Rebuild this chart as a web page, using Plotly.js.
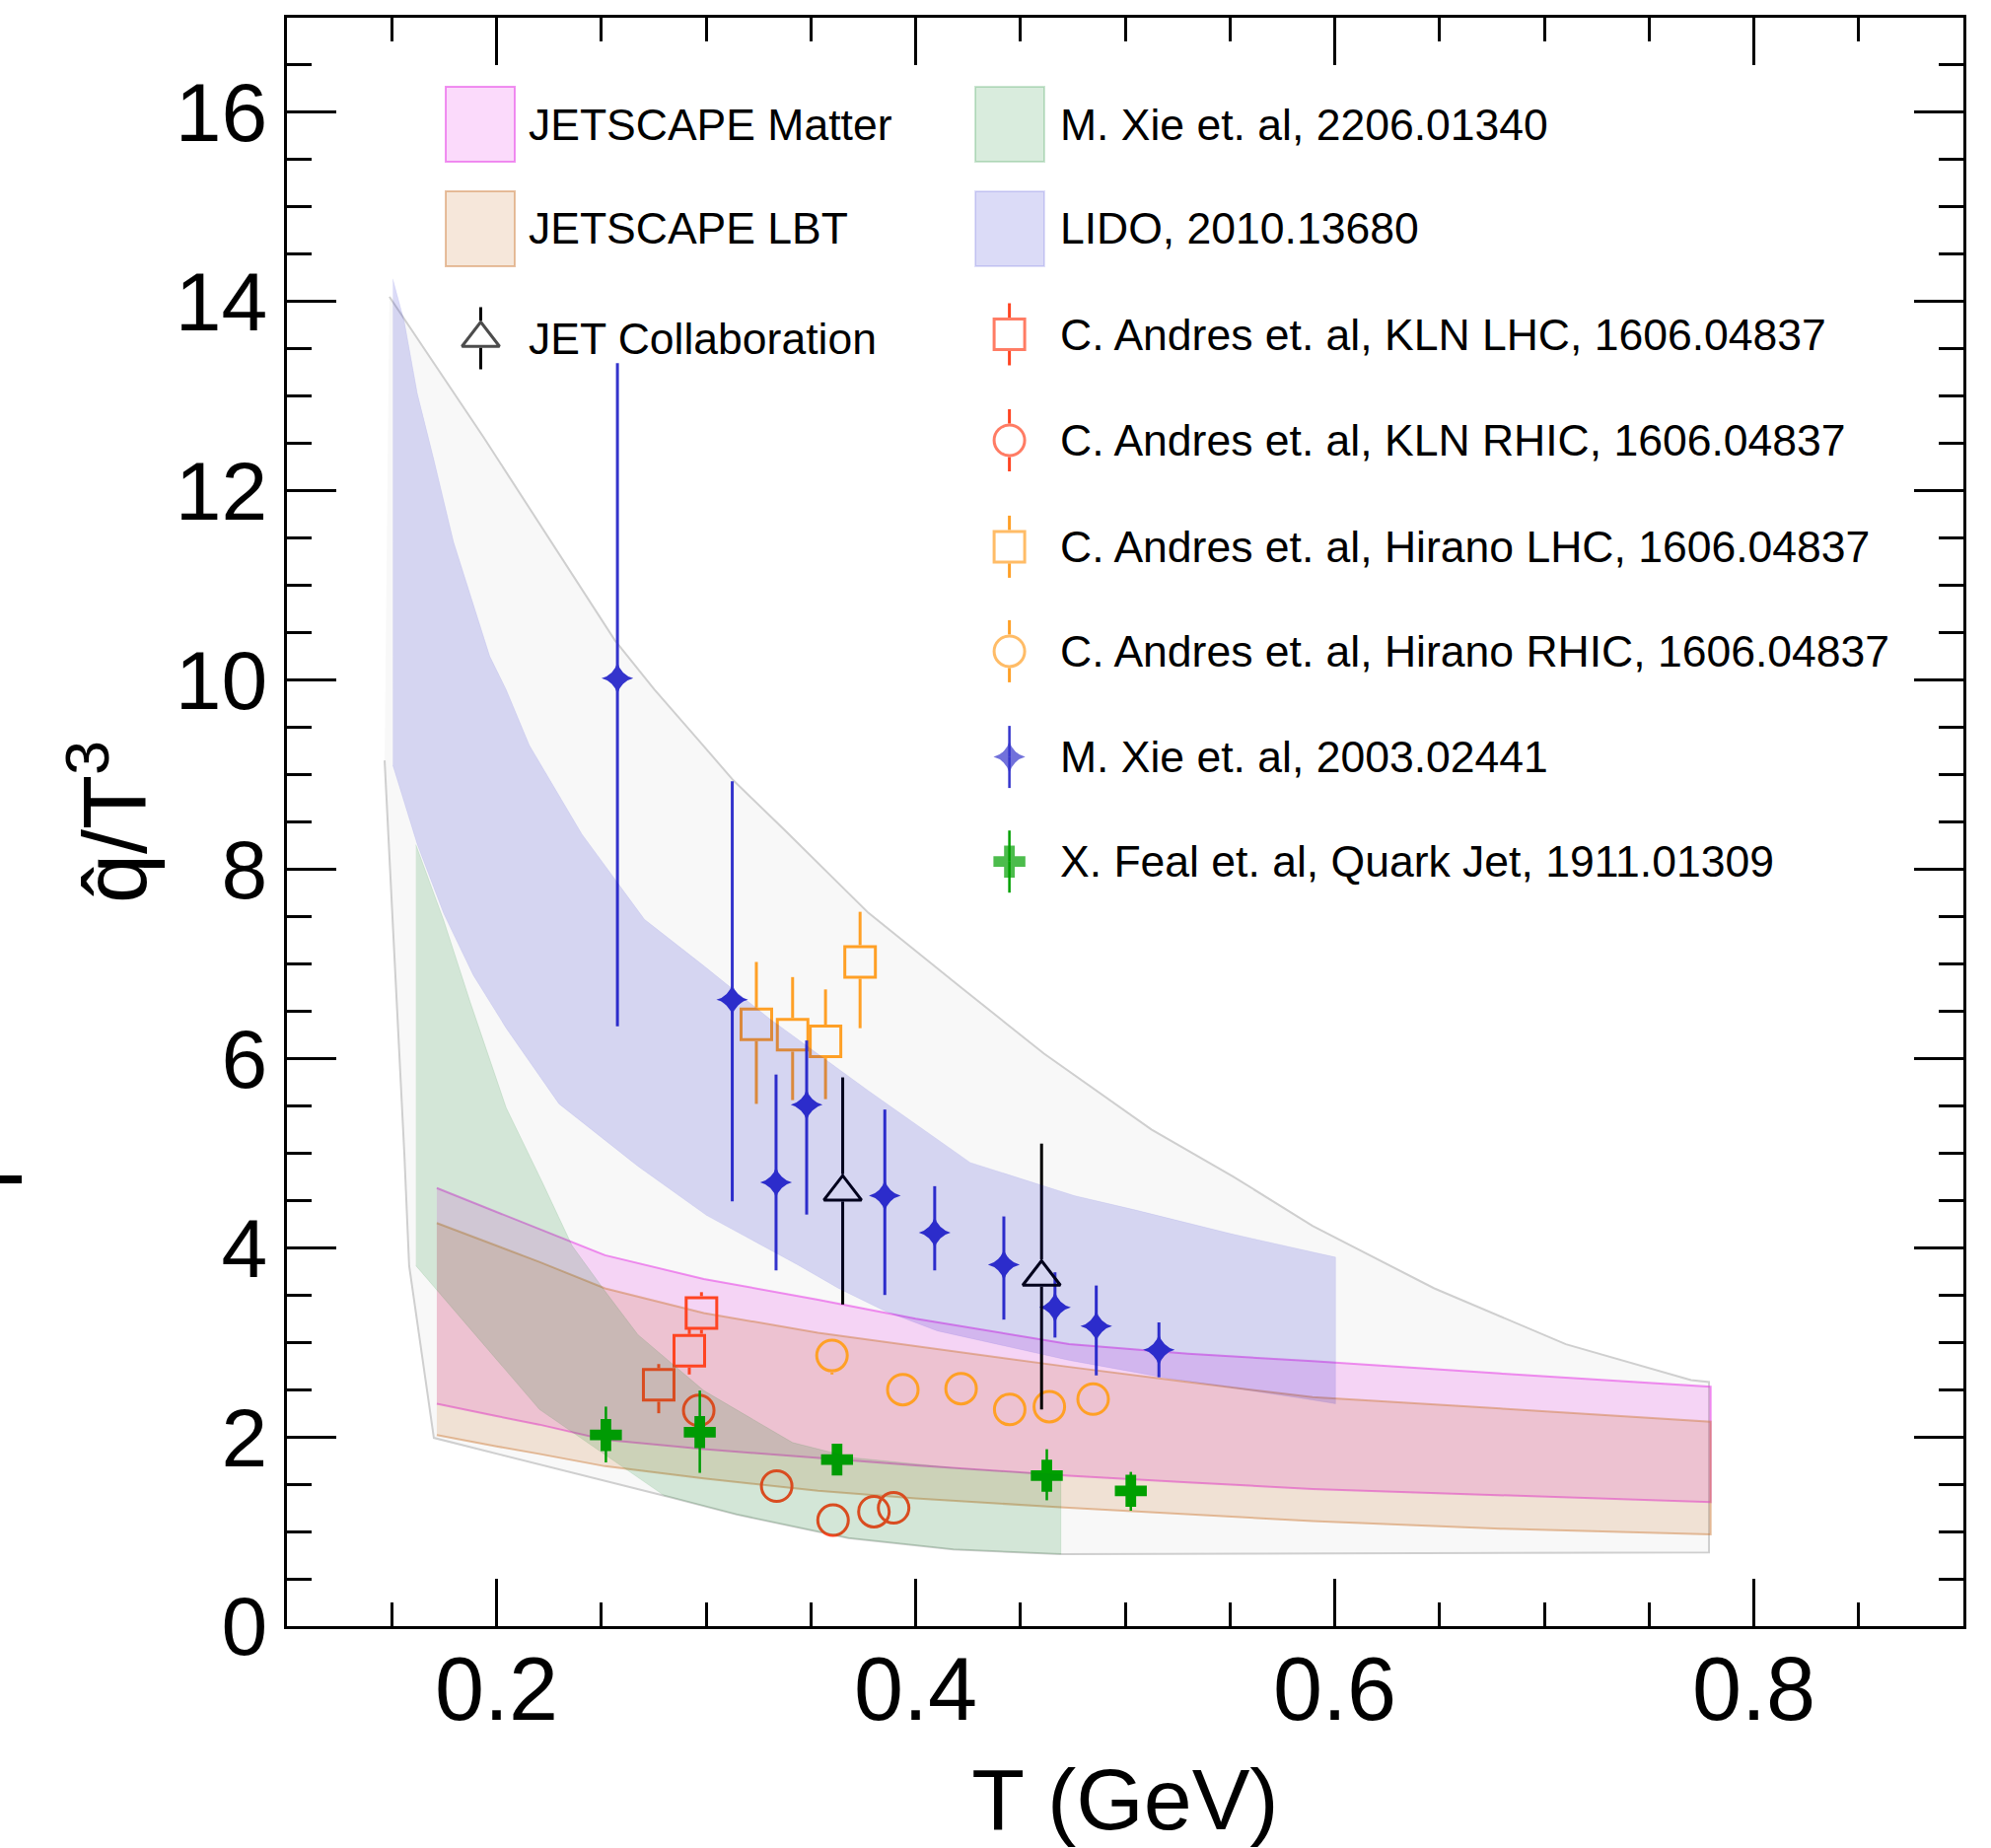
<!DOCTYPE html>
<html><head><meta charset="utf-8">
<script src="https://cdn.plot.ly/plotly-3.0.1.min.js"></script>
<style>html,body{margin:0;padding:0;background:#fff;}#chart{width:2019px;height:1874px;}</style>
</head><body><div id="chart"></div>
<script>
// ================= DATA =================
// Grey envelope
const greyUpperT = [0.1489, 0.1937, 0.2565, 0.2753, 0.2958, 0.3130, 0.3381, 0.3774, 0.4200, 0.4613, 0.5125, 0.5517, 0.5894, 0.6475, 0.7103, 0.7700, 0.7786];
const greyUpperQ = [14.05, 12.57, 10.42, 9.90, 9.38, 8.94, 8.40, 7.54, 6.78, 6.05, 5.25, 4.75, 4.23, 3.57, 2.98, 2.60, 2.58];
const greyLowerT = [0.1466, 0.1560, 0.1583, 0.1701, 0.2833, 0.3146, 0.3680, 0.4180, 0.4693, 0.7786];
const greyLowerQ = [9.15, 5.00, 3.81, 1.99, 1.36, 1.18, 0.93, 0.81, 0.76, 0.78];

// JETSCAPE Matter / JETSCAPE LBT bands
const jsT        = [0.1715, 0.2000, 0.2204, 0.2518, 0.2989, 0.3534, 0.4000, 0.4732, 0.5300, 0.5894, 0.6790, 0.7794];
const matterHigh = [4.63, 4.38, 4.20, 3.92, 3.67, 3.45, 3.25, 2.98, 2.88, 2.80, 2.67, 2.53];
const matterLow  = [2.35, 2.22, 2.13, 1.97, 1.87, 1.78, 1.70, 1.59, 1.52, 1.45, 1.38, 1.31];
const lbtHigh    = [4.26, 4.02, 3.85, 3.57, 3.31, 3.10, 2.96, 2.74, 2.58, 2.42, 2.30, 2.16];
const lbtLow     = [2.02, 1.90, 1.82, 1.69, 1.56, 1.43, 1.35, 1.25, 1.18, 1.11, 1.03, 0.97];

// M. Xie et al 2206.01340 band
const xie22UpperT = [0.1615, 0.1748, 0.1874, 0.2046, 0.2219, 0.2361, 0.2518, 0.2675, 0.2989, 0.3413, 0.3700, 0.4200, 0.4693];
const xie22UpperQ = [8.26, 7.46, 6.60, 5.48, 4.69, 4.02, 3.54, 3.08, 2.49, 1.94, 1.78, 1.67, 1.60];
const xie22LowerT = [0.1615, 0.1717, 0.2205, 0.2800, 0.3146, 0.3680, 0.4180, 0.4693];
const xie22LowerQ = [3.81, 3.54, 2.29, 1.38, 1.18, 0.93, 0.81, 0.76];

// LIDO 2010.13680 band
const lidoUpperT = [0.1505, 0.1560, 0.1622, 0.1701, 0.1795, 0.1968, 0.2046, 0.2157, 0.2408, 0.2706, 0.2989, 0.3303, 0.3774, 0.4261, 0.4758, 0.5046, 0.5500, 0.5894, 0.6004];
const lidoUpperQ = [14.24, 13.79, 13.03, 12.33, 11.46, 10.25, 9.90, 9.31, 8.37, 7.47, 6.98, 6.42, 5.66, 4.90, 4.55, 4.40, 4.15, 3.95, 3.90];
const lidoLowerT = [0.1505, 0.1622, 0.1748, 0.1889, 0.2046, 0.2298, 0.2675, 0.3003, 0.3436, 0.3632, 0.3853, 0.4104, 0.4732, 0.5203, 0.5894, 0.6004];
const lidoLowerQ = [9.10, 8.26, 7.53, 6.88, 6.32, 5.52, 4.86, 4.34, 3.82, 3.57, 3.33, 3.12, 2.81, 2.62, 2.39, 2.35];

// C. Andres et al, KLN LHC
const klnLhcT = [0.2774, 0.2920, 0.2978];
const klnLhcQ = [2.55, 2.91, 3.31];
const klnLhcPlus  = [0.22, 0.23, 0.22];
const klnLhcMinus = [0.30, 0.25, 0.22];
// C. Andres et al, KLN RHIC
const klnRhicT = [0.2965, 0.3337, 0.3606, 0.3801, 0.3895];
const klnRhicQ = [2.28, 1.48, 1.12, 1.21, 1.25];
// C. Andres et al, Hirano LHC
const hirLhcT = [0.3240, 0.3413, 0.3570, 0.3735];
const hirLhcQ = [6.36, 6.25, 6.18, 7.02];
const hirLhcPlus  = [0.66, 0.61, 0.55, 0.53];
const hirLhcMinus = [0.84, 0.69, 0.61, 0.70];
// C. Andres et al, Hirano RHIC
const hirRhicT = [0.3601, 0.3939, 0.4217, 0.4449, 0.4638, 0.4847];
const hirRhicQ = [2.86, 2.50, 2.51, 2.29, 2.32, 2.40];
const hirRhicPlus  = [0, 0, 0, 0, 0, 0];
const hirRhicMinus = [0.20, 0, 0, 0, 0, 0];
// M. Xie et al, 2003.02441
const xie20T = [0.2577, 0.3125, 0.3334, 0.3480, 0.3853, 0.4091, 0.4421, 0.4665, 0.4862, 0.5161];
const xie20Q = [10.02, 6.62, 4.69, 5.51, 4.55, 4.16, 3.82, 3.37, 3.17, 2.92];
const xie20Plus  = [3.33, 2.31, 1.14, 0.68, 0.91, 0.49, 0.51, 0.37, 0.43, 0.29];
const xie20Minus = [3.68, 2.13, 0.93, 1.16, 1.05, 0.40, 0.58, 0.32, 0.52, 0.29];
// JET Collaboration
const jetT = [0.3652, 0.4601];
const jetQ = [4.59, 3.69];
const jetPlus  = [1.21, 1.41];
const jetMinus = [1.19, 1.40];
// X. Feal et al, Quark Jet
const fealT = [0.2522, 0.2970, 0.3625, 0.4626, 0.5027];
const fealQ = [2.02, 2.05, 1.76, 1.59, 1.43];
const fealPlus  = [0.30, 0.44, 0.12, 0.28, 0.20];
const fealMinus = [0.29, 0.43, 0.12, 0.26, 0.21];

// Tick labels / axis titles / legend labels
const xTickVals = [0.2, 0.4, 0.6, 0.8];
const xTickText = ['0.2', '0.4', '0.6', '0.8'];
const yTickVals = [0, 2, 4, 6, 8, 10, 12, 14, 16];
const yTickText = ['0', '2', '4', '6', '8', '10', '12', '14', '16'];
const xTitle = 'T (GeV)';
const yTitle = 'q\u0302/T<sup>3</sup>';
const labels = {
  matter: 'JETSCAPE Matter', lbt: 'JETSCAPE LBT', jet: 'JET Collaboration',
  xie22: 'M. Xie et. al, 2206.01340', lido: 'LIDO, 2010.13680',
  klnLhc: 'C. Andres et. al, KLN LHC, 1606.04837', klnRhic: 'C. Andres et. al, KLN RHIC, 1606.04837',
  hirLhc: 'C. Andres et. al, Hirano LHC, 1606.04837', hirRhic: 'C. Andres et. al, Hirano RHIC, 1606.04837',
  xie20: 'M. Xie et. al, 2003.02441', feal: 'X. Feal et. al, Quark Jet, 1911.01309'
};

// ================= STYLE / LAYOUT =================
const W = 2019, H = 1874, ML = 291, MR = 28, MT = 18, MB = 225;
const plotW = W - ML - MR, plotH = H - MT - MB;
const xRange = [0.1, 0.9], yRange = [0, 17];
const pxPerUnit = plotH / (yRange[1] - yRange[0]);
const paperX = X => (X - ML) / plotW;
const paperY = Y => (H - MB - Y) / plotH;
const posX = X => xRange[0] + paperX(X) * (xRange[1] - xRange[0]);
const posY = Y => yRange[0] + paperY(Y) * (yRange[1] - yRange[0]);
const FONT = 'Liberation Sans, Arial, Helvetica, sans-serif';

const col = {
  kln: '#ff4422', hir: '#ffa026', xie: '#3434cc', jet: '#000000', feal: '#00a000',
  greyFill: '#f8f8f8', greyLine: '#cfcfcf',
  matterFill: 'rgba(230,0,230,0.145)', matterLine: 'rgba(230,60,230,0.55)',
  lbtFill: 'rgba(195,95,9,0.15)', lbtLine: 'rgba(205,120,50,0.45)',
  greenFill: 'rgba(0,130,30,0.15)', greenLine: 'rgba(0,130,30,0.10)',
  blueFill: 'rgba(0,0,200,0.14)', blueLine: 'rgba(0,0,200,0.06)'
};
const SZ = {sq: 31, circ: 31, tri: 33, star: 23, cross: 27, lw: 3};

function band(name, xu, yu, xl, yl, fill, line, lw) {
  return {type: 'scatter', mode: 'lines', name: name,
    x: xu.concat(xl.slice().reverse()), y: yu.concat(yl.slice().reverse()),
    fill: 'toself', fillcolor: fill, line: {color: line, width: lw},
    hoverinfo: 'skip', showlegend: false};
}
function gappedBars(name, T, Q, plus, minus, gapUpPx, gapDownPx, color) {
  const xs = [], ys = [];
  const gu = gapUpPx / pxPerUnit, gd = gapDownPx / pxPerUnit;
  for (let i = 0; i < T.length; i++) {
    if (plus[i] > gu) { xs.push(T[i], T[i], null); ys.push(Q[i] + gu, Q[i] + plus[i], null); }
    if (minus[i] > gd) { xs.push(T[i], T[i], null); ys.push(Q[i] - gd, Q[i] - minus[i], null); }
  }
  return {type: 'scatter', mode: 'lines', name: name + ' errors', x: xs, y: ys,
    line: {color: color, width: SZ.lw}, connectgaps: false, hoverinfo: 'skip', showlegend: false, cliponaxis: false};
}
function pts(name, T, Q, symbol, size, color, lw, err) {
  const t = {type: 'scatter', mode: 'markers', name: name, x: T, y: Q,
    marker: {symbol: symbol, size: size, color: color, line: {color: color, width: lw}},
    showlegend: false, cliponaxis: false};
  if (err) t.error_y = {type: 'data', symmetric: false, array: err[0], arrayminus: err[1],
    color: color, thickness: err[2], width: 0};
  return t;
}

const halfSq = SZ.sq / 2 + SZ.lw / 2, halfCirc = SZ.circ / 2 + SZ.lw / 2;
const traces = [
  band('Envelope', greyUpperT, greyUpperQ, greyLowerT, greyLowerQ, col.greyFill, col.greyLine, 2),
  band(labels.matter, jsT, matterHigh, jsT, matterLow, col.matterFill, col.matterLine, 2),
  band(labels.lbt, jsT, lbtHigh, jsT, lbtLow, col.lbtFill, col.lbtLine, 2),
  gappedBars(labels.klnLhc, klnLhcT, klnLhcQ, klnLhcPlus, klnLhcMinus, halfSq, halfSq, col.kln),
  pts(labels.klnLhc, klnLhcT, klnLhcQ, 'square-open', SZ.sq, col.kln, SZ.lw),
  pts(labels.klnRhic, klnRhicT, klnRhicQ, 'circle-open', SZ.circ, col.kln, SZ.lw),
  gappedBars(labels.hirLhc, hirLhcT, hirLhcQ, hirLhcPlus, hirLhcMinus, halfSq, halfSq, col.hir),
  pts(labels.hirLhc, hirLhcT, hirLhcQ, 'square-open', SZ.sq, col.hir, SZ.lw),
  gappedBars(labels.hirRhic, hirRhicT, hirRhicQ, hirRhicPlus, hirRhicMinus, halfCirc, halfCirc, col.hir),
  pts(labels.hirRhic, hirRhicT, hirRhicQ, 'circle-open', SZ.circ, col.hir, SZ.lw),
  pts(labels.xie20, xie20T, xie20Q, 'star-diamond', SZ.star, col.xie, 0, [xie20Plus, xie20Minus, 3]),
  gappedBars(labels.jet, jetT, jetQ, jetPlus, jetMinus, SZ.tri / 2 + 1.5, SZ.tri / 4 + 1.5, col.jet),
  pts(labels.jet, jetT, jetQ, 'triangle-up-open', SZ.tri, col.jet, SZ.lw),
  pts(labels.feal, fealT, fealQ, 'cross', SZ.cross, col.feal, 0, [fealPlus, fealMinus, 2.5]),
  band(labels.xie22, xie22UpperT, xie22UpperQ, xie22LowerT, xie22LowerQ, col.greenFill, col.greenLine, 1),
  band(labels.lido, lidoUpperT, lidoUpperQ, lidoLowerT, lidoLowerQ, col.blueFill, col.blueLine, 1)
];

// ---------- hand-drawn legend (two columns) ----------
const LEG = {fs: 44.5, c1Box: [452, 522], c2Box: [989, 1059], c1Mk: 487.5, c2Mk: 1023.6,
  c1Txt: 534, c2Txt: 1073, boxHalfH: 38, barHalf: 31.5};
const legendBoxes = [
  {y: 126, c: 1, fill: col.matterFill, line: col.matterLine, text: labels.matter},
  {y: 232, c: 1, fill: col.lbtFill, line: col.lbtLine, text: labels.lbt},
  {y: 126, c: 2, fill: col.greenFill, line: 'rgba(0,130,30,0.2)', text: labels.xie22},
  {y: 232, c: 2, fill: col.blueFill, line: 'rgba(0,0,200,0.12)', text: labels.lido}
];
const legendMarkers = [
  {y: 343, c: 1, sym: 'triangle-up-open', size: SZ.tri, color: col.jet, lw: SZ.lw, gapU: SZ.tri / 2 + 1.5, gapD: SZ.tri / 4 + 1.5, text: labels.jet},
  {y: 339, c: 2, sym: 'square-open', size: SZ.sq, color: col.kln, lw: SZ.lw, gapU: halfSq, gapD: halfSq, text: labels.klnLhc},
  {y: 446.5, c: 2, sym: 'circle-open', size: SZ.circ, color: col.kln, lw: SZ.lw, gapU: halfCirc, gapD: halfCirc, text: labels.klnRhic},
  {y: 554.4, c: 2, sym: 'square-open', size: SZ.sq, color: col.hir, lw: SZ.lw, gapU: halfSq, gapD: halfSq, text: labels.hirLhc},
  {y: 660.4, c: 2, sym: 'circle-open', size: SZ.circ, color: col.hir, lw: SZ.lw, gapU: halfCirc, gapD: halfCirc, text: labels.hirRhic},
  {y: 767.6, c: 2, sym: 'star-diamond', size: SZ.star, color: col.xie, lw: 0, gapU: 0, gapD: 0, text: labels.xie20, bw: 2.5},
  {y: 873.7, c: 2, sym: 'cross', size: SZ.cross, color: col.feal, lw: 0, gapU: 0, gapD: 0, text: labels.feal, bw: 2.5}
];
const shapes = [], annotations = [];
legendBoxes.forEach(b => {
  const bx = b.c === 1 ? LEG.c1Box : LEG.c2Box;
  shapes.push({type: 'rect', xref: 'paper', yref: 'paper', x0: paperX(bx[0]), x1: paperX(bx[1]),
    y0: paperY(b.y - LEG.boxHalfH), y1: paperY(b.y + LEG.boxHalfH), fillcolor: b.fill, line: {color: b.line, width: 2}});
  annotations.push({xref: 'paper', yref: 'paper', x: paperX(b.c === 1 ? LEG.c1Txt : LEG.c2Txt), y: paperY(b.y),
    xanchor: 'left', yanchor: 'middle', showarrow: false, text: b.text, font: {size: LEG.fs, family: FONT, color: '#000'}});
});
const legMkX = [], legMkY = [], legMkSym = [], legMkSize = [], legMkCol = [], legMkLw = [];
legendMarkers.forEach(m => {
  const mx = m.c === 1 ? LEG.c1Mk : LEG.c2Mk;
  const bw = m.bw || SZ.lw;
  shapes.push({type: 'line', xref: 'paper', yref: 'paper', x0: paperX(mx), x1: paperX(mx),
    y0: paperY(m.y - m.gapU), y1: paperY(m.y - LEG.barHalf), line: {color: m.color, width: bw}});
  shapes.push({type: 'line', xref: 'paper', yref: 'paper', x0: paperX(mx), x1: paperX(mx),
    y0: paperY(m.y + m.gapD), y1: paperY(m.y + LEG.barHalf), line: {color: m.color, width: bw}});
  legMkX.push(posX(mx)); legMkY.push(posY(m.y)); legMkSym.push(m.sym); legMkSize.push(m.size);
  legMkCol.push(m.color); legMkLw.push(m.lw);
  annotations.push({xref: 'paper', yref: 'paper', x: paperX(m.c === 1 ? LEG.c1Txt : LEG.c2Txt), y: paperY(m.y),
    xanchor: 'left', yanchor: 'middle', showarrow: false, text: m.text, font: {size: LEG.fs, family: FONT, color: '#000'}});
});
traces.push({type: 'scatter', mode: 'markers', x: legMkX, y: legMkY,
  marker: {symbol: legMkSym, size: legMkSize, color: legMkCol, line: {color: legMkCol, width: legMkLw}},
  hoverinfo: 'skip', showlegend: false, cliponaxis: false, name: 'legend symbols'});

// stray mark of the neighbouring panel at the left edge
shapes.push({type: 'line', xref: 'paper', yref: 'paper', x0: paperX(0), x1: paperX(22), y0: paperY(1196), y1: paperY(1196),
  line: {color: '#000', width: 8}});

const axisCommon = {showgrid: false, zeroline: false, showline: true, linecolor: '#000', linewidth: 3,
  mirror: 'allticks', ticks: 'inside', tickcolor: '#000', tickwidth: 3, automargin: false};

const layout = {
  width: W, height: H, margin: {l: ML, r: MR, t: MT, b: MB, pad: 0},
  paper_bgcolor: '#ffffff', plot_bgcolor: 'rgba(0,0,0,0)', showlegend: false,
  font: {family: FONT, color: '#000'},
  xaxis: Object.assign({}, axisCommon, {range: xRange, tickmode: 'array', tickvals: xTickVals, ticktext: xTickText,
    ticklen: 48, ticklabelstandoff: -16, tickfont: {size: 90, family: FONT, color: '#000'},
    minor: {dtick: 0.05, tick0: 0, ticklen: 24, tickwidth: 3, ticks: 'inside', tickcolor: '#000', showgrid: false},
    title: {text: xTitle, font: {size: 88, family: FONT, color: '#000'}, standoff: 59}}),
  yaxis: Object.assign({}, axisCommon, {range: yRange, tickmode: 'array', tickvals: yTickVals, ticktext: yTickText,
    ticklen: 50, ticklabelstandoff: 0, tickfont: {size: 84, family: FONT, color: '#000'},
    minor: {dtick: 0.5, tick0: 0, ticklen: 25, tickwidth: 3, ticks: 'inside', tickcolor: '#000', showgrid: false},
    title: {text: yTitle, font: {size: 90, family: FONT, color: '#000'}, standoff: 0}}),
  shapes: shapes, annotations: annotations
};

Plotly.newPlot('chart', traces, layout, {displayModeBar: false, staticPlot: true});
</script></body></html>
